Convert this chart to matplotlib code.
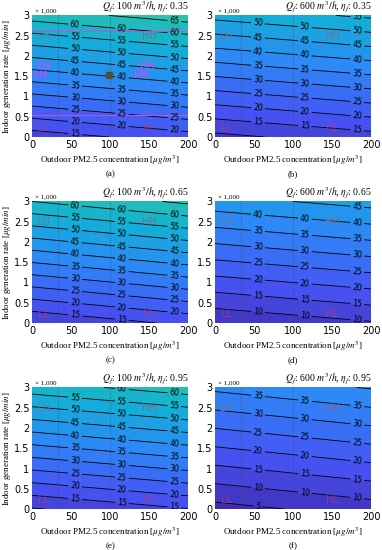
import numpy as np
import matplotlib
matplotlib.use('Agg')
import matplotlib.pyplot as plt
from matplotlib.colors import LinearSegmentedColormap, Normalize

# panel settings
panel_tags = ['(a)', '(b)', '(c)', '(d)', '(e)', '(f)']
panel_qf = [100, 600, 100, 600, 100, 600]
panel_eta = [0.35, 0.35, 0.65, 0.65, 0.95, 0.95]

x_grid = [0, 200]
y_grid = [0, 3]
# rows = y_grid, cols = x_grid
conc_a = [[12.3, 17.8], [62.3, 67.8]]
conc_b = [[8.6, 13.0], [51.6, 56.0]]
conc_c = [[10.2, 16.2], [60.0, 66.0]]
conc_d = [[5.5, 9.5], [43.0, 47.0]]
conc_e = [[9.6, 14.8], [57.6, 62.8]]
conc_f = [[3.1, 7.4], [36.1, 40.4]]
panel_conc = [conc_a, conc_b, conc_c, conc_d, conc_e, conc_f]

levels = np.arange(0, 75, 5)
label_x = [55, 115, 182]

parula = LinearSegmentedColormap.from_list('parula', [
    (0.2422, 0.1504, 0.6603), (0.2810, 0.3228, 0.9579), (0.1786, 0.5289, 0.9682),
    (0.0689, 0.6948, 0.8394), (0.2161, 0.7843, 0.5923), (0.6720, 0.7793, 0.2227),
    (0.9970, 0.7659, 0.2199), (0.9769, 0.9839, 0.0805)])
norm = Normalize(0, 128)

plt.rcParams['mathtext.fontset'] = 'stix'
serif = 'Liberation Serif'

fig = plt.figure(figsize=(3.82, 5.50), dpi=100)
lefts = [0.084, 0.563]
bottoms = [0.751, 0.4127, 0.0745]

for i in range(6):
    r, c = divmod(i, 2)
    ax = fig.add_axes([lefts[c], bottoms[r], 0.409, 0.221])
    z = np.array(panel_conc[i])
    X, Y = np.meshgrid(x_grid, y_grid)
    ax.contourf(X, Y, z, levels=levels, cmap=parula, norm=norm)
    cs = ax.contour(X, Y, z, levels=levels, colors='black', linewidths=0.6)

    # label positions along three columns
    manual = []
    for xx in label_x:
        bot = np.interp(xx, x_grid, z[0])
        top = np.interp(xx, x_grid, z[1])
        for lv in levels:
            yy = (lv - bot) / (top - bot) * 3
            if 0.03 < yy < 2.97:
                manual.append((xx, yy))
    ax.clabel(cs, manual=manual, fontsize=5.5, inline=True, inline_spacing=2, fmt='%d')

    for xv in [33.3, 100]:
        ax.axvline(xv, color='#404060', lw=0.5, ls=':')

    ax.text(15, 2.5, 'LH', color='#6e7a86', fontsize=7, ha='center', va='center')
    ax.text(150, 2.5, 'HH', color='#7e6a86', fontsize=7, ha='center', va='center')
    ax.text(15, 0.22, 'LL', color='#b03a78', fontsize=7, ha='center', va='center', alpha=0.75)
    ax.text(150, 0.22, 'HL', color='#b03a78', fontsize=7, ha='center', va='center', alpha=0.75)

    if i == 0:
        for yv in [2.62, 0.55]:
            ax.axhline(yv, color='#e040e0', lw=0.7)
        ax.text(15, 1.75, 'LH', color='#ff30ff', fontsize=7, ha='center', va='center')
        ax.text(3, 1.52, 'LH', color='#ff30ff', fontsize=7, ha='left', va='center')
        ax.text(148, 1.75, 'HH', color='#ff30ff', fontsize=7, ha='center', va='center')
        ax.text(140, 1.52, 'HH', color='#ff30ff', fontsize=7, ha='center', va='center')
        ax.plot([99], [1.52], marker='s', color='#505030', ms=4)

    ax.set_xlim(0, 200)
    ax.set_ylim(0, 3)
    ax.set_xticks([0, 50, 100, 150, 200])
    ax.set_yticks([0, 0.5, 1, 1.5, 2, 2.5, 3])
    ax.set_yticklabels(['0', '0.5', '1', '1.5', '2', '2.5', '3'])
    ax.tick_params(labelsize=7, length=0, pad=2)
    for s in ax.spines.values():
        s.set_visible(False)

    ax.set_title(r'$Q_f$: %d $m^3/h$, $\eta_f$: %.2f' % (panel_qf[i], panel_eta[i]),
                 loc='right', fontsize=7, pad=4, fontfamily=serif)
    ax.text(0.02, 1.02, '× 1,000', transform=ax.transAxes, fontsize=5, ha='left',
            va='bottom', fontfamily=serif)
    ax.set_xlabel(r'Outdoor PM2.5 concentration [$\mu g/m^3$]', fontsize=6.5,
                  fontfamily=serif, labelpad=3)
    ax.text(0.5, -0.275, panel_tags[i], transform=ax.transAxes, fontsize=6.5,
            ha='center', va='top', fontfamily=serif)
    if c == 0:
        ax.set_ylabel(r'Indoor generation rate [$\mu g/min$]', fontsize=6.5,
                      fontfamily=serif)
        ax.yaxis.set_label_coords(-0.12, 0.5)

fig.savefig('out.png', dpi=100)
